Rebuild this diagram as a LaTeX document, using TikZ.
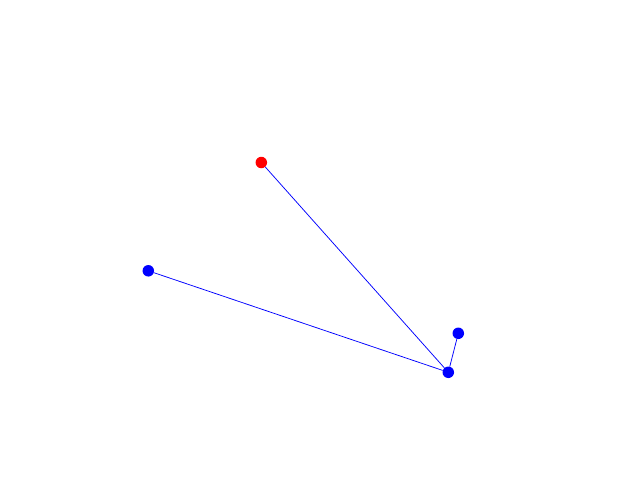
\documentclass[tikz,border=0pt]{standalone}
\begin{document}
\begin{tikzpicture}[x=1pt,y=-1pt,
  dot/.style={circle,inner sep=0pt,minimum size=11.5pt},
  bluedot/.style={dot,fill=blue},
  reddot/.style={dot,fill=red},
  edge/.style={blue,line width=0.75pt}]
\useasboundingbox (0,0) rectangle (640,480);
\node[reddot] (r) at (261.3,162.5) {};
\node[bluedot] (l) at (148.3,270.8) {};
\node[bluedot] (c) at (448.3,372.3) {};
\node[bluedot] (t) at (458.3,333.3) {};
\draw[edge] (r) -- (c);
\draw[edge] (l) -- (c);
\draw[edge] (c) -- (t);
\end{tikzpicture}
\end{document}
